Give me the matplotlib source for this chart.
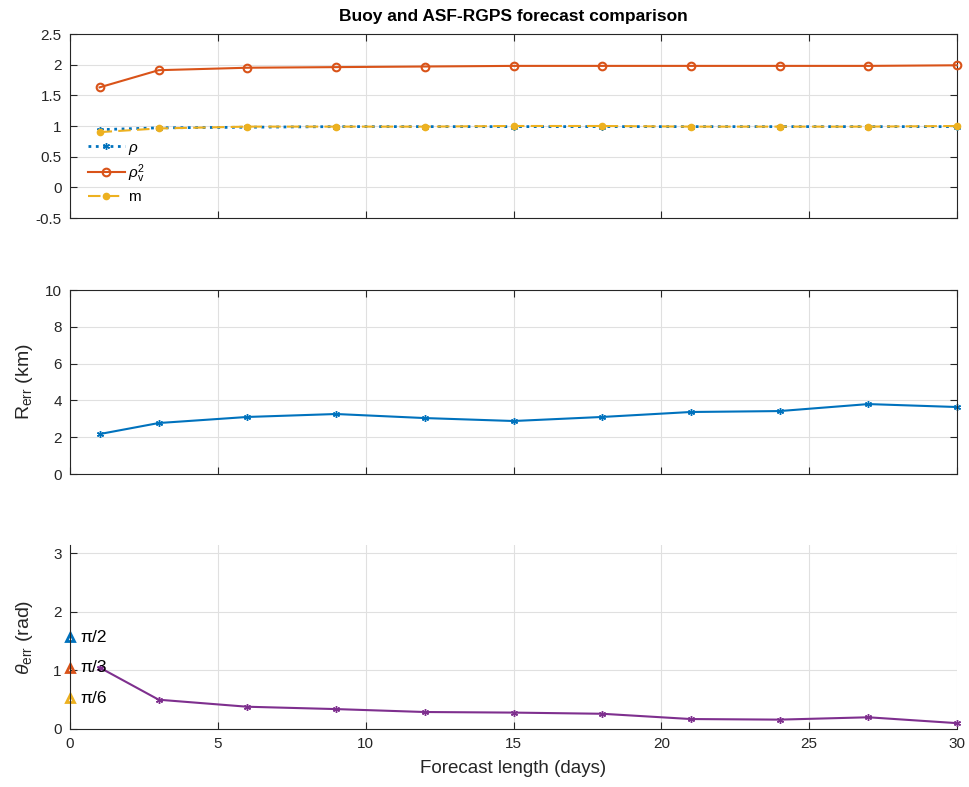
import numpy as np
import matplotlib
matplotlib.use("Agg")
import matplotlib.pyplot as plt

plt.rcParams['font.family'] = ['Liberation Sans', 'DejaVu Sans']
plt.rcParams['mathtext.fontset'] = 'custom'
plt.rcParams['mathtext.rm'] = 'Liberation Sans'
plt.rcParams['mathtext.it'] = 'Liberation Sans:italic'

days = [1, 3, 6, 9, 12, 15, 18, 21, 24, 27, 30]
rho = [0.94, 0.97, 0.98, 0.99, 0.99, 0.99, 0.99, 0.99, 0.99, 0.99, 0.99]
rho_v2 = [1.63, 1.91, 1.95, 1.96, 1.97, 1.98, 1.98, 1.98, 1.98, 1.98, 1.99]
m_vals = [0.90, 0.96, 0.99, 0.99, 0.99, 1.00, 1.00, 0.99, 0.99, 0.99, 1.00]
r_err = [2.17, 2.77, 3.10, 3.26, 3.04, 2.88, 3.10, 3.37, 3.42, 3.80, 3.64]
theta_err = [1.05, 0.50, 0.38, 0.34, 0.29, 0.28, 0.26, 0.17, 0.16, 0.20, 0.10]
ref_angles = [np.pi / 2, np.pi / 3, np.pi / 6]
ref_labels = ['\u03c0/2', '\u03c0/3', '\u03c0/6']

c_blue = '#0072BD'
c_orange = '#D95319'
c_yellow = '#EDB120'
c_purple = '#7E2F8E'
ref_colors = [c_blue, c_orange, c_yellow]
ast = (6, 2, 0)

fig = plt.figure(figsize=(9.69, 7.87), dpi=100)
left, width = 70 / 969, 887 / 969
h = 184 / 787
ax1 = fig.add_axes([left, 1 - 218 / 787, width, h])
ax2 = fig.add_axes([left, 1 - 474 / 787, width, h])
ax3 = fig.add_axes([left, 1 - 729 / 787, width, h])

def style(ax, box=True):
    ax.grid(True, color='#e0e0e0', linewidth=0.8)
    ax.set_axisbelow(True)
    ax.tick_params(direction='in', labelsize=11, colors='#262626', length=5,
                   top=box, right=box, pad=6)
    for s in ax.spines.values():
        s.set_color('#262626')
        s.set_linewidth(0.8)
    if not box:
        ax.spines['top'].set_visible(False)
        ax.spines['right'].set_visible(False)
    ax.set_xlim(0, 30)
    ax.set_xticks(np.arange(0, 31, 5))

# Top panel
style(ax1)
ax1.plot(days, rho, color=c_blue, linestyle=':', linewidth=2, marker=ast,
         markersize=5, label=r'$\rho$', clip_on=False, zorder=3)
ax1.plot(days, rho_v2, color=c_orange, linestyle='-', linewidth=1.5, marker='o',
         markersize=5.5, markerfacecolor='none', markeredgewidth=1.5,
         label=r'$\rho_\mathrm{v}^2$', clip_on=False, zorder=3)
ax1.plot(days, m_vals, color=c_yellow, linestyle=(0, (6, 3)), linewidth=1.5, marker='.',
         markersize=9, label='m', clip_on=False, zorder=3)
ax1.set_ylim(-0.5, 2.5)
ax1.set_yticks(np.arange(-0.5, 2.51, 0.5))
ax1.set_yticklabels(['-0.5', '0', '0.5', '1', '1.5', '2', '2.5'])
ax1.set_xticklabels([])
ax1.set_title('Buoy and ASF-RGPS forecast comparison', fontsize=12.5,
              fontweight='bold', pad=9)
leg = ax1.legend(loc='upper left', bbox_to_anchor=(0.01, 0.47), frameon=False,
                 fontsize=11, handlelength=2.4, borderaxespad=0.2,
                 labelspacing=0.35, handletextpad=0.2)

# Middle panel
style(ax2)
ax2.plot(days, r_err, color=c_blue, linewidth=1.5, marker=ast, markersize=5,
         clip_on=False)
ax2.set_ylim(0, 10)
ax2.set_yticks(np.arange(0, 11, 2))
ax2.set_xticklabels([])
ax2.set_ylabel(r'R$_\mathrm{err}$ (km)', fontsize=14, color='#262626')

# Bottom panel
style(ax3, box=False)
ax3.plot(days, theta_err, color=c_purple, linewidth=1.5, marker=ast, markersize=5,
         clip_on=False)
for a, lab, col in zip(ref_angles, ref_labels, ref_colors):
    ax3.plot([0], [a], marker='^', color=col, markerfacecolor='none',
             markeredgewidth=2, markersize=6, clip_on=False, linestyle='none')
    ax3.text(0.35, a, lab, fontsize=12.5, va='center', ha='left')
ax3.set_ylim(0, np.pi)
ax3.set_yticks([0, 1, 2, 3])
ax3.set_xlabel('Forecast length (days)', fontsize=13.5, color='#262626', labelpad=6)
ax3.set_ylabel(r'$\theta_\mathrm{err}$ (rad)', fontsize=14, color='#262626')
ax2.yaxis.set_label_coords(-0.04, 0.5)
ax3.yaxis.set_label_coords(-0.04, 0.5)

fig.savefig('out.png', dpi=100)
